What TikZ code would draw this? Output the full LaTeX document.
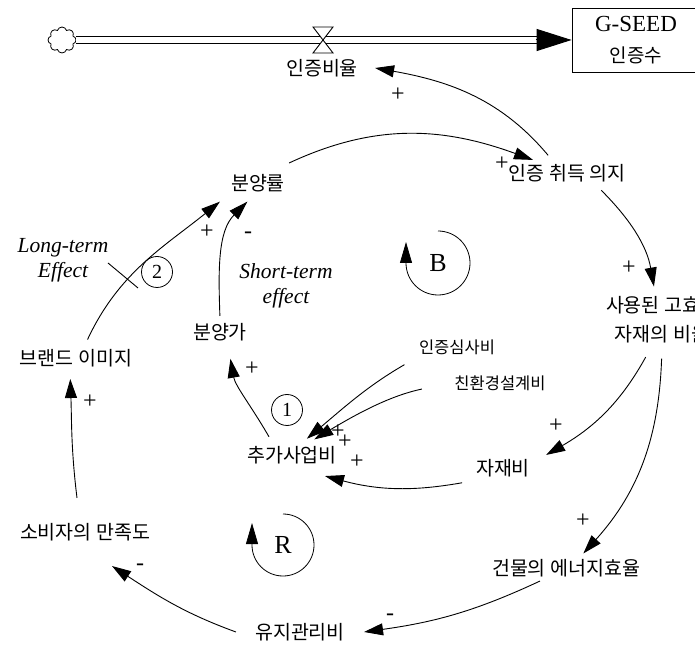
\documentclass[tikz,border=0pt]{standalone}
\usepackage{fontspec}
\setmainfont{Liberation Serif}
\newfontfamily\kr{Noto Sans CJK KR}
\usetikzlibrary{arrows.meta,shapes.symbols}

\begin{document}
\begin{tikzpicture}[x=1pt, y=1pt,
    every node/.style={font=\kr\fontsize{19.5}{23}\selectfont, inner sep=4pt},
    small/.style={font=\kr\fontsize{16.5}{20}\selectfont},
    sign/.style={font=\rmfamily\fontsize{24}{24}\selectfont, inner sep=0pt},
    effect/.style={font=\rmfamily\itshape\fontsize{21.5}{25}\selectfont, align=center, inner sep=0pt},
    num/.style={circle, draw, line width=0.8pt, minimum size=31pt, inner sep=0pt, font=\rmfamily\fontsize{20}{20}\selectfont},
    loopname/.style={font=\rmfamily\fontsize{26}{26}\selectfont},
    link/.style={-{Triangle[length=19pt,width=12pt]}, line width=0.9pt},
    loopline/.style={-{Triangle[length=21pt,width=12pt]}, line width=0.8pt},
    pipe/.style={double, double distance=5.5pt, line width=1.2pt}]
\fill[white] (0,0) rectangle (695,645);
\useasboundingbox (0,0) rectangle (695,645);

% stock and flow
\node[cloud, draw, cloud puffs=8, cloud ignores aspect, minimum width=28pt, minimum height=26pt, inner sep=0pt, line width=0.8pt] (src) at (62,605) {};
\node[draw, line width=0.8pt, minimum width=128pt, minimum height=64pt, inner sep=0pt, align=center, font=\kr\fontsize{19}{31}\selectfont] (seed) at (636,605) {{\rmfamily\fontsize{23}{23}\selectfont G-SEED}\\인증수};
\draw[pipe, shorten >=33pt] (src) -- (seed);
\draw[-{Triangle[length=35pt,width=22pt]}, line width=1pt] ([xshift=-36pt]seed.west) -- (seed.west);
\draw[fill=white, line width=0.9pt] (313,618) -- (333,618) -- (313,592) -- (333,592) -- cycle;
\node[inner xsep=17pt] (rate) at (322,577) {인증비율};

% variables
\node (will) at (567,472) {인증 취득 의지};
\node (share) at (258,462) {분양률};
\node[align=center, font=\kr\fontsize{19.5}{29}\selectfont] (ratio) at (662,325) {사용된 고효율\\자재의 비율};
\node (price) at (220,313) {분양가};
\node (brand) at (76,287) {브랜드 이미지};
\node (extra) at (292,190) {추가사업비};
\node[small] (audit) at (457,298) {인증심사비};
\node[small] (design) at (500,262) {친환경설계비};
\node (mat) at (503,177) {자재비};
\node[inner ysep=25pt] (satis) at (85,113) {소비자의 만족도};
\node (energy) at (566,77) {건물의 에너지효율};
\node[inner xsep=19pt] (maint) at (300,13) {유지관리비};

% links
\draw[link, shorten <=6pt] ([xshift=-15pt]will.north) to[out=130,in=-10] (rate.east);
\draw[link] ([yshift=7pt]share.north east) to[out=25,in=160] ([xshift=-34pt]will.north);
\draw[link, shorten <=6pt, shorten >=6pt] ([xshift=30pt]will.south) to[out=-45,in=100] ([xshift=-7pt]ratio.north);
\draw[link, shorten <=11pt] ([xshift=-11pt]ratio.south) to[out=-119,in=30] ([xshift=12pt]mat.north east);
\draw[link, shorten <=11pt, shorten >=2pt] (ratio.south) to[out=-92,in=48] ([xshift=16pt]energy.north);
\draw[link, shorten <=10pt] (mat.south west) to[out=-170,in=-15] ([xshift=33pt,yshift=-8pt]extra.south);
\draw[link, shorten <=12pt, shorten >=5pt] (audit.south west) to[out=-150,in=40] ([xshift=11pt]extra.north);
\draw[link, shorten <=29pt, shorten >=5pt] (design.west) to[out=-168,in=31] ([xshift=18pt]extra.north);
\draw[link, shorten <=6pt, shorten >=14pt] ([xshift=-20pt]extra.north) to[out=120,in=-80] ([xshift=8pt]price.south);
\draw[link, shorten <=3pt, shorten >=8pt] (price.north) to[out=92,in=-135] ([xshift=-5pt]share.south);
\draw[link, shorten <=6pt, shorten >=9pt] ([xshift=9pt]brand.north) to[out=65,in=-141] (share.south west);
\draw[link, shorten >=8pt] ([xshift=-8pt]satis.north) to[out=97,in=-88] ([xshift=-6pt]brand.south);
\draw[link] (maint.west) to[out=160,in=-33] ([xshift=27pt]satis.south);
\draw[link] ([xshift=-26pt]energy.south) to[out=-155,in=8] (maint.east);
\draw[line width=0.9pt] (108,382) -- (138,357);

% signs
\node[sign] (s1) at (398,550) {+};
\node[sign] (s2) at (502,481) {+};
\node[sign] (s3) at (629,377) {+};
\node[sign] (s4) at (556,219) {+};
\node[sign] (s5) at (583,124) {+};
\node[sign] (s6) at (338,213) {+};
\node[sign] (s7) at (345,203) {+};
\node[sign] (s8) at (357,183) {+};
\node[sign] (s9) at (252,276) {+};
\node[sign] (s10) at (248,410) {-};
\node[sign] (s11) at (207,413) {+};
\node[sign] (s12) at (90,243) {+};
\node[sign] (s13) at (140,78) {-};
\node[sign] (s14) at (390,28) {-};

% loops and notes
\node[loopname] (loopB) at (438,382) {B};
\draw[loopline] (438,414) arc[start angle=90, end angle=-180, radius=32] -- ++(0,21);
\node[loopname] (loopR) at (283,100) {R};
\draw[loopline] (283,131) arc[start angle=90, end angle=-180, radius=31] -- ++(0,22);
\node[num] (one) at (287,235) {1};
\node[num] (two) at (157,373) {2};
\node[effect] (longterm) at (63,385) {Long-term\\Effect};
\node[effect] (shortterm) at (286,359) {Short-term\\effect};
\end{tikzpicture}
\end{document}
